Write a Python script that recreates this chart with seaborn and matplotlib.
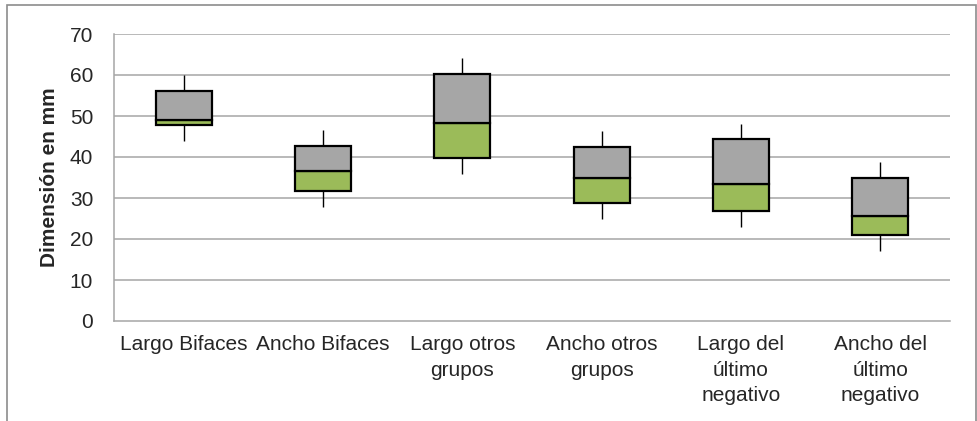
import matplotlib
matplotlib.use("Agg")
import matplotlib.pyplot as plt
import seaborn as sns
import numpy as np
import pandas as pd
from matplotlib.patches import Rectangle

categories = ["Largo Bifaces", "Ancho Bifaces", "Largo otros\ngrupos", "Ancho otros\ngrupos",
              "Largo del\núltimo\nnegativo", "Ancho del\núltimo\nnegativo"]
whisker_min = [43.9, 27.7, 35.8, 24.8, 22.9, 17.1]
q1 = [47.7, 31.6, 39.8, 28.7, 26.8, 20.9]
median = [49.0, 36.5, 48.3, 35.0, 33.5, 25.5]
q3 = [56.1, 42.8, 60.3, 42.4, 44.5, 35.0]
whisker_max = [60.0, 46.6, 64.1, 46.3, 48.1, 38.7]
y_ticks = [0, 10, 20, 30, 40, 50, 60, 70]
y_label = "Dimensión en mm"

sns.set_style("white")
plt.rcParams["font.family"] = ["Liberation Sans", "DejaVu Sans"]

df = pd.DataFrame({
    "cat": categories,
    "q1": q1,
    "low": np.array(median) - np.array(q1),
    "med": median,
    "high": np.array(q3) - np.array(median),
})

fig = plt.figure(figsize=(9.78, 4.21), dpi=100)
ax = fig.add_axes([114 / 978, 1 - 321 / 421, (950 - 114) / 978, (321 - 34) / 421])

grid_c = "#A6A6A6"
for t in y_ticks[1:]:
    ax.axhline(t, color=grid_c, lw=1.1, zorder=0)

pos = np.arange(len(categories))
ax.vlines(pos, whisker_min, q1, color="black", lw=1.0, zorder=1)
ax.vlines(pos, q3, whisker_max, color="black", lw=1.0, zorder=1)

sns.barplot(data=df, x="cat", y="low", bottom=df["q1"], color="#9BBB59", saturation=1,
            width=0.4, edgecolor="black", linewidth=1.6, ax=ax, zorder=2)
sns.barplot(data=df, x="cat", y="high", bottom=df["med"], color="#A6A6A6", saturation=1,
            width=0.4, edgecolor="black", linewidth=1.6, ax=ax, zorder=2)

ax.set_xlim(-0.5, len(categories) - 0.5)
ax.set_ylim(0, 70)
ax.set_yticks(y_ticks)
ax.set_yticklabels([str(t) for t in y_ticks], fontsize=15)
ax.set_xticks(pos)
ax.set_xticklabels(categories, fontsize=15, linespacing=1.45, va="top")
ax.set_xticks(np.arange(-0.5, len(categories), 1.0), minor=True)
ax.tick_params(axis="x", which="major", length=0, pad=10)
ax.tick_params(axis="x", which="minor", length=5, color=grid_c, width=1.1, direction="out")
ax.tick_params(axis="y", length=5, color=grid_c, width=1.1, direction="out", pad=10)
ax.set_xlabel("")
ax.set_ylabel(y_label, fontsize=15, fontweight="bold", labelpad=8)

for s in ["top", "right"]:
    ax.spines[s].set_visible(False)
for s in ["left", "bottom"]:
    ax.spines[s].set_color(grid_c)
    ax.spines[s].set_linewidth(1.1)

fig.patches.append(Rectangle((7 / 978, -0.1), (976 - 7) / 978, 1.1 - 5 / 421,
                             transform=fig.transFigure, fill=False,
                             edgecolor="#8C8C8C", lw=1.2))

fig.savefig("out.png", dpi=100)
